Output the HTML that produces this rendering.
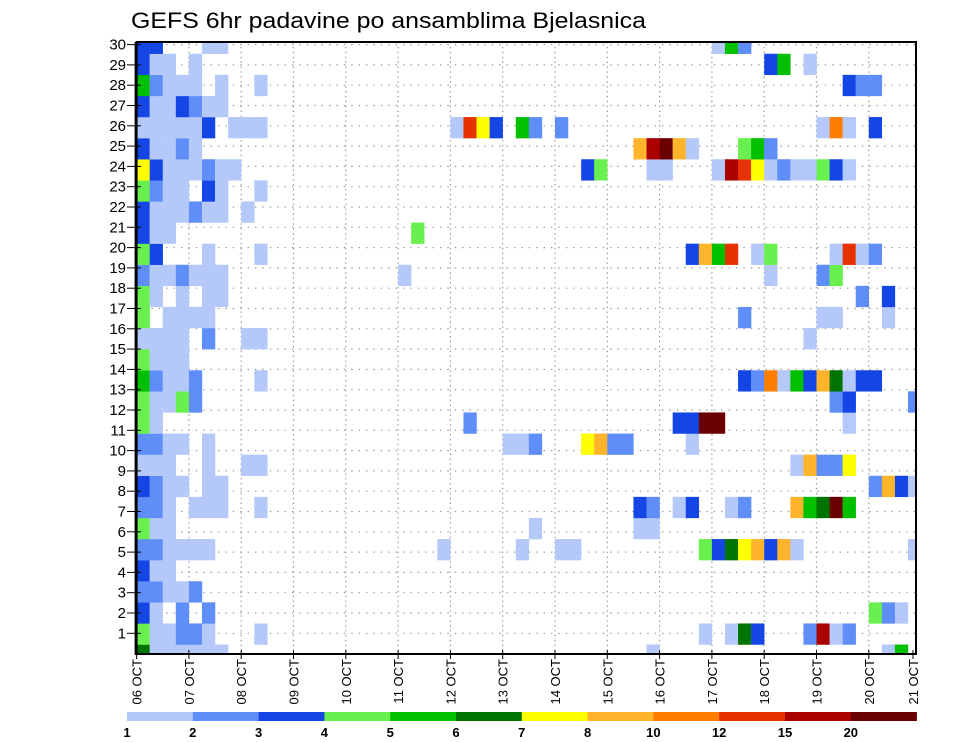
<!DOCTYPE html>
<html><head><meta charset="utf-8">
<style>
html,body{margin:0;padding:0;background:#fff;}
svg{display:block;font-family:"Liberation Sans",sans-serif;}
</style></head>
<body>
<svg id="chart" width="960" height="742" viewBox="0 0 960 742" xmlns="http://www.w3.org/2000/svg">
<text x="131" y="28" font-size="22" textLength="515" lengthAdjust="spacingAndGlyphs" fill="#000">GEFS 6hr padavine po ansamblima Bjelasnica</text>
<g id="grid"></g>
<g id="cells"></g>
<g id="axes"></g>
<g id="cbar"></g>
</svg>
<script>
// ---- data ----
const dayLabels = ["06 OCT","07 OCT","08 OCT","09 OCT","10 OCT","11 OCT","12 OCT","13 OCT","14 OCT","15 OCT","16 OCT","17 OCT","18 OCT","19 OCT","20 OCT","21 OCT"];
const yTickLabels = [1,2,3,4,5,6,7,8,9,10,11,12,13,14,15,16,17,18,19,20,21,22,23,24,25,26,27,28,29,30];
const levelLabels = ["1","2","3","4","5","6","7","8","10","12","15","20"];
const levelColors = ["#b4c8fa","#5f8ef8","#1446e6","#6af04e","#00c000","#007400","#ffff00","#ffb42c","#ff7d00","#e63200","#aa0000","#6a0000"];
// per ensemble member (index 0..29): "timeStep:level" pairs, 6-hourly steps from 06 OCT 00Z
const memberCells = [
"0:6,1:1,2:1,3:1,4:1,5:1,6:1,39:1,57:1,58:5",
"0:4,1:1,2:1,3:2,4:2,5:1,9:1,43:1,45:1,46:6,47:3,51:2,52:11,53:1,54:2",
"0:3,1:1,3:2,5:2,56:4,57:2,58:1",
"0:2,1:2,2:1,3:1,4:2",
"0:3,1:1,2:1",
"0:2,1:2,2:1,3:1,4:1,5:1,23:1,29:1,32:1,33:1,43:4,44:3,45:6,46:7,47:8,48:3,49:8,50:1,59:1",
"0:4,1:1,2:1,30:1,38:1,39:1",
"0:2,1:2,2:1,4:1,5:1,6:1,9:1,38:3,39:2,41:1,42:3,45:1,46:2,50:8,51:5,52:6,53:12,54:5",
"0:3,1:2,2:1,3:1,5:1,6:1,56:2,57:8,58:3,59:1",
"0:1,1:1,2:1,5:1,8:1,9:1,50:1,51:8,52:2,53:2,54:7",
"0:2,1:2,2:1,3:1,5:1,28:1,29:1,30:2,34:7,35:8,36:2,37:2,42:1",
"0:4,1:1,25:2,41:3,42:3,43:12,44:12,54:1",
"0:4,1:1,2:1,3:4,4:2,53:2,54:3,59:2",
"0:5,1:2,2:1,3:1,4:2,9:1,46:3,47:2,48:9,49:1,50:5,51:3,52:8,53:6,54:1,55:3,56:3",
"0:4,1:1,2:1,3:1",
"0:1,1:1,2:1,3:1,5:2,8:1,9:1,51:1",
"0:4,2:1,3:1,4:1,5:1,46:2,52:1,53:1,57:1",
"0:4,1:1,3:1,5:1,6:1,55:2,57:3",
"0:2,1:1,2:1,3:2,4:1,5:1,6:1,20:1,48:1,52:2,53:4",
"0:4,1:3,5:1,9:1,42:3,43:8,44:5,45:10,47:1,48:4,53:1,54:10,55:1,56:2",
"0:3,1:1,2:1,21:4",
"0:3,1:1,2:1,3:1,4:2,5:1,6:1,8:1",
"0:4,1:2,2:1,3:1,5:3,6:1,9:1",
"0:7,1:3,2:1,3:1,4:1,5:2,6:1,7:1,34:3,35:4,39:1,40:1,44:1,45:11,46:10,47:7,48:1,49:2,50:1,51:1,52:4,53:3,54:1",
"0:3,1:1,2:1,3:2,4:1,38:8,39:11,40:12,41:8,42:1,46:4,47:5,48:2",
"0:1,1:1,2:1,3:1,4:1,5:3,7:1,8:1,9:1,24:1,25:10,26:7,27:3,29:5,30:2,32:2,52:1,53:9,54:1,56:3",
"0:3,1:1,2:1,3:3,4:2,5:1,6:1",
"0:5,1:2,2:1,3:1,4:1,6:1,9:1,54:3,55:2,56:2",
"0:3,1:1,2:1,4:1,48:3,49:5,51:1",
"0:3,1:3,5:1,6:1,44:1,45:5,46:2"
];
// ---- geometry ----
const NS="http://www.w3.org/2000/svg";
const PL=136.6, PR=916, PT=42, PB=654;
const dayW=52.3, stepW=dayW/4;
function xDay(d){return PL+d*dayW;}
function xStep(s){return PL+s*stepW;}
function yMember(m){return 655.1-21.1*m;}
function yLabel(v){return 653.6-20.3*v;}
function mk(tag,attrs,parent){const e=document.createElementNS(NS,tag);for(const k in attrs)e.setAttribute(k,attrs[k]);parent.appendChild(e);return e;}
const grid=document.getElementById('grid'),cells=document.getElementById('cells'),axes=document.getElementById('axes'),cbar=document.getElementById('cbar');
// clip
const defs=mk('defs',{},document.getElementById('chart'));
const cp=mk('clipPath',{id:'plotclip'},defs);
mk('rect',{x:PL,y:PT,width:PR-PL,height:PB-PT},cp);
cells.setAttribute('clip-path','url(#plotclip)');
// grid
yTickLabels.forEach(v=>{
  const l=mk('line',{x1:PL,x2:PR,y1:yLabel(v),y2:yLabel(v),stroke:'#999','stroke-width':1.2,'stroke-dasharray':'1.4 6'},grid);
  
  
});
dayLabels.forEach((d,k)=>{
  if(k===0||xDay(k)>PR-2)return;
  const l=mk('line',{x1:xDay(k),x2:xDay(k),y1:PT,y2:PB,stroke:'#999','stroke-width':1.2,'stroke-dasharray':'1.4 3.5'},grid);
  
  
});
// cells
memberCells.forEach((str,m)=>{
  str.split(',').forEach(p=>{
    const [s,v]=p.split(':').map(Number);
    const r=mk('rect',{x:xStep(s),y:yMember(m)-10.55,width:stepW+0.2,height:21.3,fill:levelColors[v-1]},cells);
    
    
  });
});
// axes frame
const fr=mk('rect',{x:PL,y:PT,width:PR-PL,height:PB-PT,fill:'none',stroke:'#000','stroke-width':2},axes);


mk('line',{x1:PL-1,x2:PL-1,y1:PT,y2:PB+1,stroke:'#000','stroke-width':2},axes);
yTickLabels.forEach(v=>{
  const y=yLabel(v);
  mk('line',{x1:127,x2:141,y1:y,y2:y,stroke:'#000','stroke-width':1},axes);
  const t=mk('text',{x:126,y:y+5,'font-size':15,'text-anchor':'end',fill:'#000'},axes);
  t.textContent=v;
  
  
});
dayLabels.forEach((d,k)=>{
  const x=k===dayLabels.length-1?913:xDay(k);
  mk('line',{x1:x,x2:x,y1:PB-4,y2:PB+5,stroke:'#000','stroke-width':1},axes);
  const t=mk('text',{x:0,y:0,'font-size':13,'text-anchor':'end',fill:'#000',transform:'translate('+(x+5)+',659) rotate(-90)'},axes);
  t.textContent=d;
  
  
});
// colorbar
const CB0=127, CBW=65.8;
levelColors.forEach((c,k)=>{
  const r=mk('rect',{x:CB0+k*CBW,y:712,width:CBW+0.3,height:9,fill:c},cbar);
  
  
});
levelLabels.forEach((l,k)=>{
  const t=mk('text',{x:CB0+k*CBW,y:737,'font-size':13,'font-weight':'bold','text-anchor':'middle',fill:'#000'},cbar);
  t.textContent=l;
  
  
});
</script>
</body></html>
